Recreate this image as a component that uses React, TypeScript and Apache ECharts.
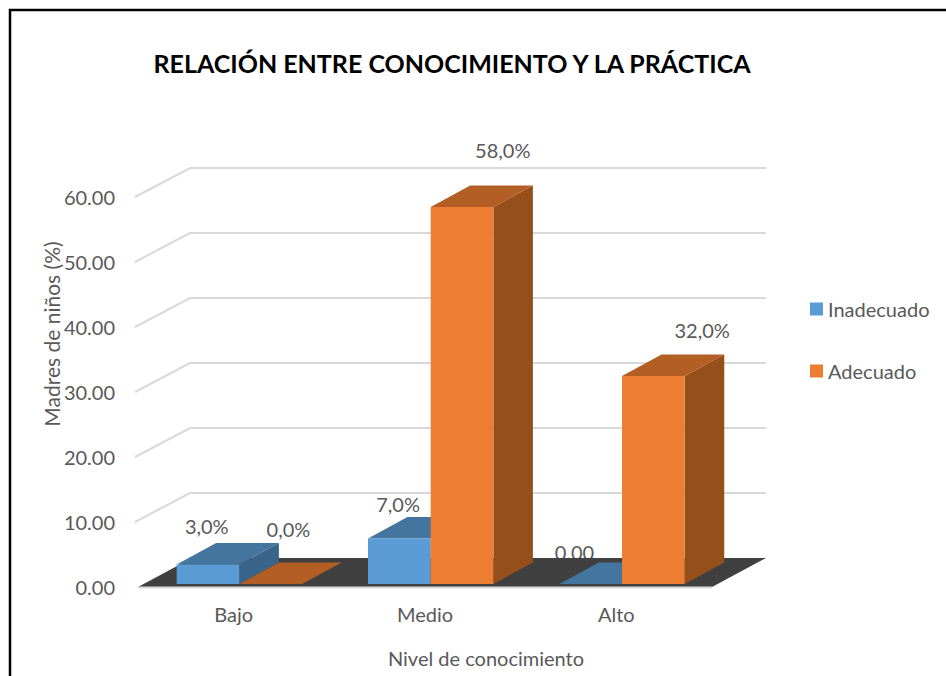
import React, { useEffect, useRef } from "react";
import * as echarts from "echarts";

const categories = ["Bajo", "Medio", "Alto"];
const inadecuado = [3, 7, 0];
const adecuado = [0, 58, 32];
const inadecuadoLabels = ["3,0%", "7,0%", "0.00"];
const adecuadoLabels = ["0,0%", "58,0%", "32,0%"];
const gridTicks = [10, 20, 30, 40, 50, 60];

// Oblique projection constants (pixels)
const WALL = { dx: 54, dy: 29 };
const INSET = { dx: 5.7, dy: 3 };
const DEPTH = { dx: 39.5, dy: 21.5 };
const BAR_W = 62.7;
const BLUE = { front: "#5B9BD5", top: "#44759F", side: "#3A6489" };
const ORANGE = { front: "#ED7D31", top: "#B35E24", side: "#954F1B" };
const LABEL_OFFSETS = [
  [[-21, -28], [-21, -24], [-36, -21]],
  [[-2, -44], [21, -46], [29, -35]],
];

const FONT = "Lato";
const TEXT = "#595959";

function poly(points: number[][], fill: string) {
  return { type: "polygon", shape: { points }, style: { fill, stroke: null } };
}

function barLeft(api: any, seriesIdx: number) {
  const c = api.coord([api.value(0), 0]);
  return c[0] + INSET.dx + (seriesIdx === 0 ? -BAR_W : 0);
}

function barRender(seriesIdx: number, col: typeof BLUE) {
  return (_p: any, api: any) => {
    const x0 = barLeft(api, seriesIdx);
    const x1 = x0 + BAR_W;
    const yb = api.coord([api.value(0), 0])[1] - INSET.dy;
    const yt = api.coord([api.value(0), api.value(1)])[1] - INSET.dy;
    const { dx, dy } = DEPTH;
    return {
      type: "group",
      children: [
        poly([[x1, yb], [x1 + dx, yb - dy], [x1 + dx, yt - dy], [x1, yt]], col.side),
        poly([[x0, yt], [x1, yt], [x1 + dx, yt - dy], [x0 + dx, yt - dy]], col.top),
        poly([[x0, yb], [x1, yb], [x1, yt], [x0, yt]], col.front),
      ],
    };
  };
}

const labelRows: any[] = [];
categories.forEach((_c, i) => {
  labelRows.push([i, inadecuado[i], 0, inadecuadoLabels[i]]);
  labelRows.push([i, adecuado[i], 1, adecuadoLabels[i]]);
});

export default function App() {
  const ref = useRef<HTMLDivElement>(null);
  useEffect(() => {
    const chart = echarts.init(ref.current!, undefined, { renderer: "svg" });
    chart.setOption({
      animation: false,
      backgroundColor: "#fff",
      title: {
        text: "RELACIÓN ENTRE CONOCIMIENTO Y LA PRÁCTICA",
        left: 447,
        top: 45,
        textAlign: "center",
        textStyle: { fontFamily: FONT, fontWeight: "bold", fontSize: 25, color: "#000" },
      },
      legend: {
        data: ["Inadecuado", "Adecuado"],
        orient: "vertical",
        left: 805,
        top: 294,
        itemWidth: 13,
        itemHeight: 13,
        itemGap: 42,
        itemStyle: { borderWidth: 0 },
        icon: "rect",
        textStyle: { fontFamily: FONT, fontSize: 20, color: TEXT },
      },
      grid: { left: 138, width: 574, top: 197, height: 390 },
      xAxis: {
        type: "category",
        data: categories,
        axisLine: { show: false },
        axisTick: { show: false },
        axisLabel: { fontFamily: FONT, fontSize: 20, color: TEXT, margin: 17 },
        splitLine: { show: false },
      },
      yAxis: {
        type: "value",
        min: 0,
        max: 60,
        interval: 10,
        axisLine: { show: false },
        axisTick: { show: false },
        splitLine: { show: false },
        axisLabel: {
          fontFamily: FONT,
          fontSize: 20,
          color: TEXT,
          margin: 23,
          padding: [3, 0, 0, 0],
          formatter: (v: number) => v.toFixed(2),
        },
      },
      graphic: [
        {
          type: "polyline",
          silent: true,
          shape: { points: [[10, 676], [10, 10], [946, 10]] },
          style: { stroke: "#000", lineWidth: 2.5, fill: null },
        },
        {
          type: "text",
          x: 51,
          y: 334,
          rotation: Math.PI / 2,
          style: {
            text: "Madres de niños (%)",
            fontFamily: FONT,
            fontSize: 21,
            fill: TEXT,
            align: "center",
            verticalAlign: "middle",
          },
        },
        {
          type: "text",
          x: 486,
          y: 658,
          style: {
            text: "Nivel de conocimiento",
            fontFamily: FONT,
            fontSize: 20,
            fill: TEXT,
            align: "center",
            verticalAlign: "middle",
          },
        },
      ],
      series: [
        {
          type: "custom",
          name: "walls",
          silent: true,
          z: 1,
          data: gridTicks.map((v) => [0, v]),
          renderItem: (_p: any, api: any) => {
            const c = api.coord([0, api.value(1)]);
            const band = api.size([1, 0])[0];
            const l = c[0] - band / 2;
            return {
              type: "polyline",
              shape: {
                points: [
                  [l - 3, c[1]],
                  [l + WALL.dx - 2, c[1] - WALL.dy],
                  [l + band * 3 + WALL.dx, c[1] - WALL.dy],
                ],
              },
              style: { stroke: "#D9D9D9", lineWidth: 2, fill: null },
            };
          },
        },
        {
          type: "custom",
          name: "labels",
          silent: true,
          z: 2,
          data: labelRows,
          renderItem: (_p: any, api: any) => {
            const i = api.value(0);
            const s = api.value(2);
            const x0 = barLeft(api, s);
            const y = api.coord([i, api.value(1)])[1] - INSET.dy;
            const off = LABEL_OFFSETS[s][i];
            return {
              type: "text",
              x: x0 + BAR_W / 2 + DEPTH.dx / 2 + off[0],
              y: y - DEPTH.dy / 2 + off[1],
              style: {
                text: labelRows[_p.dataIndex][3],
                fontFamily: FONT,
                fontSize: 20,
                fill: TEXT,
                align: "center",
                verticalAlign: "middle",
              },
            };
          },
        },
        {
          type: "custom",
          name: "floor",
          silent: true,
          z: 3,
          data: [[0, 0]],
          renderItem: (_p: any, api: any) => {
            const c = api.coord([0, 0]);
            const band = api.size([1, 0])[0];
            const l = c[0] - band / 2;
            const r = l + band * 3;
            return {
              type: "group",
              children: [
                poly([[l, c[1]], [r, c[1]], [r + WALL.dx, c[1] - WALL.dy], [l + WALL.dx, c[1] - WALL.dy]], "#404040"),
                {
                  type: "line",
                  shape: { x1: l, y1: c[1] + 0.5, x2: r, y2: c[1] + 0.5 },
                  style: { stroke: "#D9D9D9", lineWidth: 2 },
                },
              ],
            };
          },
        },
        {
          type: "custom",
          name: "Inadecuado",
          z: 4,
          itemStyle: { color: BLUE.front },
          data: inadecuado.map((v, i) => [i, v]),
          renderItem: barRender(0, BLUE),
        },
        {
          type: "custom",
          name: "Adecuado",
          z: 5,
          itemStyle: { color: ORANGE.front },
          data: adecuado.map((v, i) => [i, v]),
          renderItem: barRender(1, ORANGE),
        },
      ],
    });
    return () => chart.dispose();
  }, []);
  return (
    <div
      ref={ref}
      style={{ position: "fixed", left: 0, top: 0, width: 946, height: 676 }}
    />
  );
}
